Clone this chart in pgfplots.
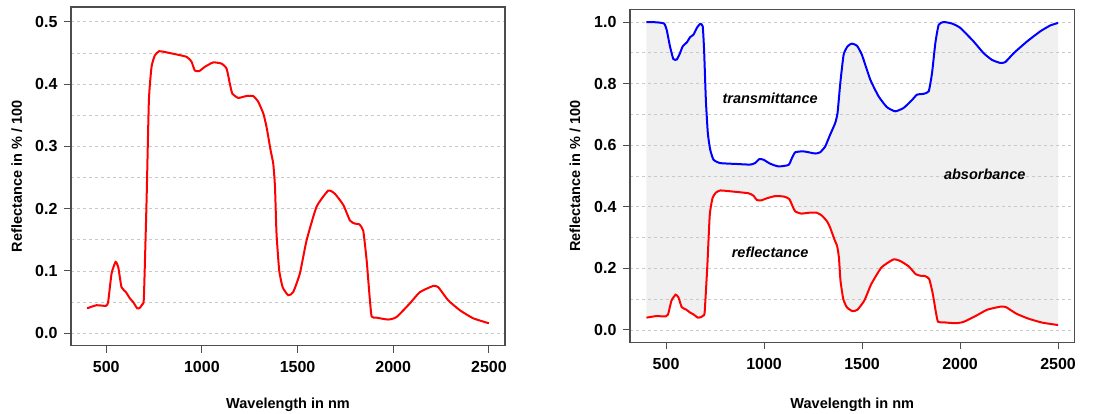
\documentclass[border=0pt]{standalone}
\usepackage{fontspec}
\setmainfont{Liberation Sans}
\usepackage{pgfplots}
\pgfplotsset{compat=1.18}
\usepgfplotslibrary{fillbetween}

% reflectance spectrum (shared by both panels)
\pgfplotstableread{
x y
400 0.040
449 0.045
498 0.044
510 0.050
528 0.096
549 0.1146
563 0.106
580 0.074
603 0.066
624 0.056
641 0.050
662 0.040
676 0.041
690 0.047
697 0.058
711 0.214
723 0.374
737 0.428
754 0.446
777 0.453
833 0.450
920 0.444
946 0.436
963 0.422
986 0.421
1016 0.428
1059 0.435
1103 0.433
1129 0.425
1146 0.401
1159 0.385
1190 0.378
1233 0.381
1268 0.381
1294 0.372
1321 0.353
1338 0.331
1359 0.294
1373 0.272
1382 0.235
1390 0.160
1404 0.101
1422 0.074
1451 0.061
1477 0.066
1512 0.096
1547 0.149
1599 0.203
1660 0.229
1695 0.224
1739 0.206
1774 0.181
1800 0.176
1822 0.175
1843 0.165
1861 0.117
1875 0.064
1887 0.027
1913 0.025
1974 0.022
2017 0.026
2087 0.048
2139 0.066
2209 0.076
2235 0.074
2287 0.053
2348 0.037
2418 0.024
2500 0.016
}\refl

% transmittance, plotted as 1 - T
\pgfplotstableread{
x y
400 1.000
452 0.999
490 0.995
503 0.975
520 0.921
537 0.880
554 0.878
568 0.894
585 0.921
606 0.934
623 0.951
640 0.959
657 0.981
674 0.994
687 0.986
694 0.910
703 0.748
713 0.640
725 0.586
742 0.553
776 0.542
861 0.539
929 0.537
954 0.542
976 0.555
997 0.553
1031 0.540
1074 0.531
1125 0.536
1142 0.558
1159 0.577
1201 0.580
1261 0.573
1286 0.577
1312 0.596
1337 0.634
1363 0.672
1375 0.705
1389 0.802
1406 0.894
1426 0.921
1448 0.930
1474 0.923
1499 0.894
1542 0.813
1584 0.759
1626 0.724
1669 0.710
1712 0.721
1754 0.746
1780 0.764
1814 0.767
1840 0.775
1857 0.834
1874 0.932
1891 0.991
1916 1.000
1959 0.995
2001 0.981
2069 0.937
2120 0.899
2163 0.877
2206 0.867
2231 0.870
2274 0.899
2342 0.937
2410 0.970
2461 0.989
2500 0.997
}\trans

\definecolor{boxgray}{HTML}{4D4D4D}
\definecolor{gridgray}{HTML}{C8C8C8}
\definecolor{absfill}{HTML}{F0F0F0}

\pgfplotsset{
  specstyle/.style={
    scale only axis,
    set layers,
    xmin=316, xmax=2584,
    xtick={500,1000,...,2500},
    tick align=outside,
    tick pos=left,
    major tick length=7pt,
    minor tick length=0pt,
    ymajorgrids, yminorgrids,
    major grid style={gridgray, line width=0.9pt, dash pattern=on 3pt off 3pt},
    minor grid style={gridgray, line width=0.9pt, dash pattern=on 3pt off 3pt},
    axis line style={boxgray, line width=1.5pt},
    every tick/.style={boxgray, line width=1pt},
    /pgf/number format/assume math mode=true,
    tick label style={font=\bfseries\fontsize{16}{18}\selectfont},
    yticklabel style={xshift=-3pt, /pgf/number format/fixed, /pgf/number format/fixed zerofill, /pgf/number format/precision=1},
    xticklabel style={yshift=-5pt, /pgf/number format/1000 sep={}},
    label style={font=\bfseries\fontsize{14.5}{17}\selectfont},
  },
}

\begin{document}
\begin{tikzpicture}

% left panel
\begin{axis}[
  specstyle,
  at={(71pt,68.3pt)}, anchor=south west,
  width=434pt, height=338.7pt,
  ymin=-0.02, ymax=0.524,
  ytick={0,0.1,...,0.5},
  minor ytick={0.05,0.15,...,0.45},
  xlabel={Wavelength in nm},
  ylabel={Reflectance in \% / 100},
  xlabel style={at={(axis description cs:0.5,-0.175)}, anchor=center},
  ylabel style={at={(axis description cs:-0.125,0.5)}, anchor=center},
]
\addplot[red, line width=2pt, smooth, tension=0.3] table {\refl};
\end{axis}

% right panel
\begin{axis}[
  specstyle,
  at={(630pt,71.7pt)}, anchor=south west,
  width=444.5pt, height=332.6pt,
  ymin=-0.04, ymax=1.04,
  ytick={0,0.2,...,1},
  minor ytick={0.1,0.3,...,0.9},
  xlabel={Wavelength in nm},
  ylabel={Reflectance in \% / 100},
  xlabel style={at={(axis description cs:0.5,-0.187)}, anchor=center},
  ylabel style={at={(axis description cs:-0.124,0.5)}, anchor=center},
]
\addplot[name path=R, red, line width=2pt, smooth, tension=0.3] table {\refl};
\addplot[name path=T, blue, line width=2pt, smooth, tension=0.3] table {\trans};
\addplot[absfill] fill between[of=T and R, on layer=axis background];
\node[font=\bfseries\itshape\fontsize{14.5}{17}\selectfont] at (axis cs:1031,0.751) {transmittance};
\node[font=\bfseries\itshape\fontsize{14.5}{17}\selectfont] at (axis cs:1031,0.253) {reflectance};
\node[font=\bfseries\itshape\fontsize{14.5}{17}\selectfont] at (axis cs:2126,0.506) {absorbance};
\end{axis}

\pgfresetboundingbox
\path[use as bounding box] (0,0) rectangle (1108pt,414pt);
\end{tikzpicture}
\end{document}
